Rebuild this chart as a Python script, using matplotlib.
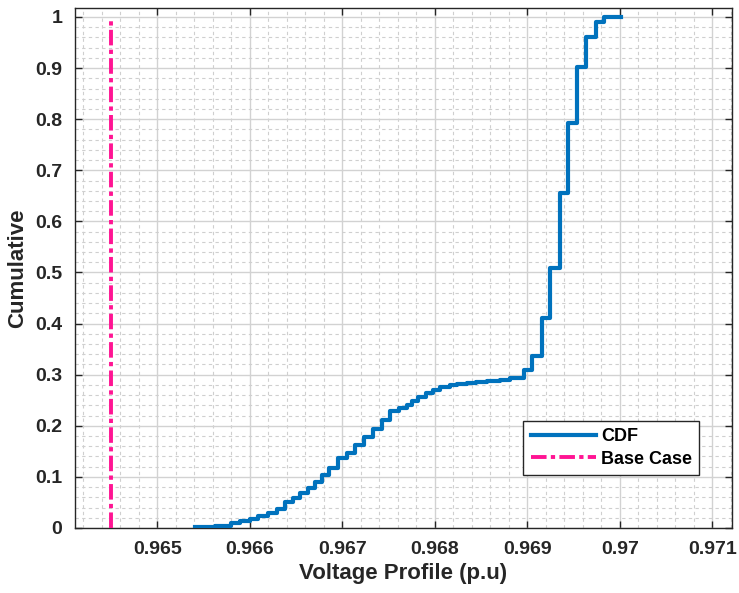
import matplotlib
matplotlib.use("Agg")
import matplotlib.pyplot as plt
from matplotlib.ticker import MultipleLocator, FixedLocator

# ---- data ----
voltage_steps = [0.96541, 0.96562, 0.96580, 0.96589, 0.96600, 0.96609, 0.96620,
                 0.96629, 0.96638, 0.96647, 0.96654, 0.96663, 0.96671, 0.96678,
                 0.96686, 0.96695, 0.96705, 0.96714, 0.96723, 0.96733, 0.96743,
                 0.96752, 0.96761, 0.96770, 0.96775, 0.96782, 0.96791, 0.96798,
                 0.96806, 0.96816, 0.96824, 0.96835, 0.96845, 0.96856, 0.96870,
                 0.96881, 0.96896, 0.96905, 0.96916, 0.96925, 0.96935, 0.96944,
                 0.96954, 0.96963, 0.96974, 0.96983, 0.97001]
cdf_values = [0.002, 0.004, 0.009, 0.013, 0.018, 0.023, 0.029,
              0.037, 0.050, 0.058, 0.068, 0.078, 0.090, 0.103,
              0.118, 0.137, 0.147, 0.163, 0.178, 0.193, 0.212,
              0.228, 0.235, 0.241, 0.248, 0.257, 0.265, 0.271,
              0.275, 0.279, 0.282, 0.284, 0.286, 0.288, 0.290,
              0.294, 0.309, 0.336, 0.411, 0.509, 0.656, 0.793,
              0.903, 0.960, 0.990, 1.000, 1.000]
base_case_voltage = 0.9645
base_case_range = [0, 1]

x_ticks = [0.965, 0.966, 0.967, 0.968, 0.969, 0.970, 0.971]
x_tick_labels = ["0.965", "0.966", "0.967", "0.968", "0.969", "0.97", "0.971"]
y_ticks = [0, 0.1, 0.2, 0.3, 0.4, 0.5, 0.6, 0.7, 0.8, 0.9, 1.0]
y_tick_labels = ["0", "0.1", "0.2", "0.3", "0.4", "0.5", "0.6", "0.7", "0.8", "0.9", "1"]

plt.rcParams['font.family'] = ['Liberation Sans', 'DejaVu Sans']
plt.rcParams['font.weight'] = 'bold'

TXT = '#262626'
fig = plt.figure(figsize=(7.39, 5.93), dpi=100)
ax = fig.add_axes([75/739, 1-528/593, 657/739, 520/593])

ax.step(voltage_steps, cdf_values, where='post', color='#0072BD', lw=3.0,
        label='CDF', zorder=3)
ax.plot([base_case_voltage, base_case_voltage], base_case_range, color='#FF1493',
        lw=2.8, dashes=(4.0, 1.1, 1.1, 1.1), label='Base Case', zorder=3)

ax.set_xlim(0.96411, 0.971213)
ax.set_ylim(0, 1.0176)

ax.xaxis.set_major_locator(FixedLocator(x_ticks))
ax.set_xticklabels(x_tick_labels)
ax.yaxis.set_major_locator(FixedLocator(y_ticks))
ax.set_yticklabels(y_tick_labels)
ax.xaxis.set_minor_locator(MultipleLocator(0.0002))
ax.yaxis.set_minor_locator(MultipleLocator(0.02))

ax.grid(which='major', color='#d2d2d2', lw=1.0, linestyle='-', zorder=0)
ax.grid(which='minor', color='#cfcfcf', lw=0.8, linestyle=(0, (3, 3)), zorder=0)
ax.set_axisbelow(True)

ax.tick_params(which='major', direction='in', length=5, width=1, color=TXT,
               top=True, right=True, labelsize=14, labelcolor=TXT, pad=9)
ax.tick_params(which='minor', length=0, top=True, right=True)
for lab in ax.get_xticklabels() + ax.get_yticklabels():
    lab.set_fontweight('bold')
for s in ax.spines.values():
    s.set_color(TXT)
    s.set_linewidth(1.0)

ax.set_xlabel('Voltage Profile (p.u)', fontsize=16, fontweight='bold', color=TXT, labelpad=4)
ax.set_ylabel('Cumulative', fontsize=16, fontweight='bold', color=TXT, labelpad=5)

leg = ax.legend(loc='lower right', bbox_to_anchor=(0.95, 0.102), borderaxespad=0,
                fontsize=13, handlelength=3.6, handletextpad=0.3, borderpad=0.4,
                labelspacing=0.3, fancybox=False, framealpha=1, edgecolor=TXT)
leg.get_frame().set_linewidth(1.0)
for t in leg.get_texts():
    t.set_fontweight('bold')
    t.set_color('#000000')

fig.savefig('out.png', dpi=100)
